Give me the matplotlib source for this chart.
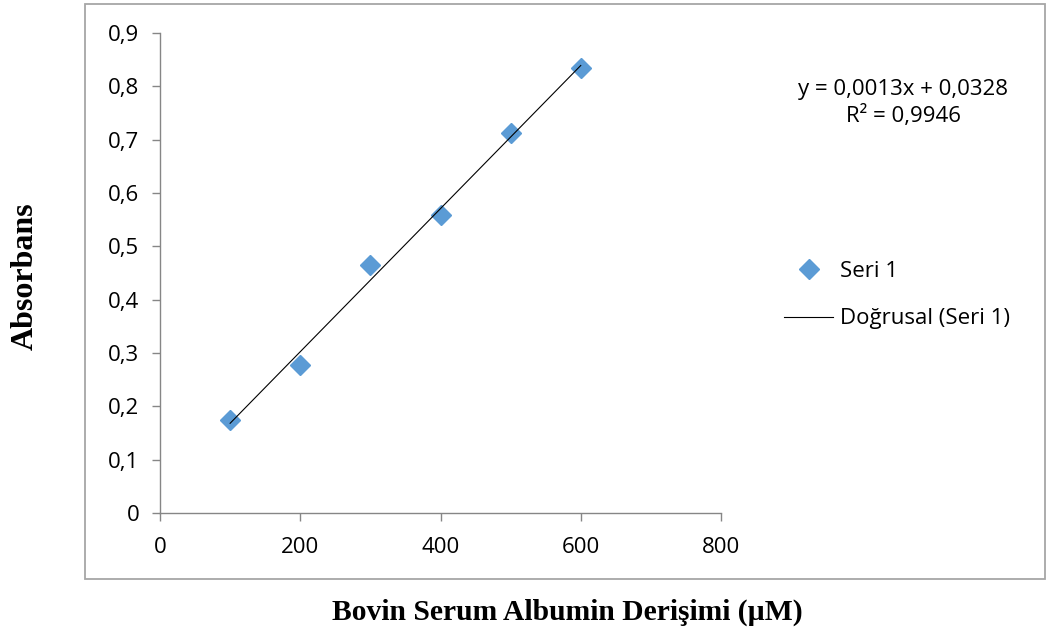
import numpy as np
import matplotlib.pyplot as plt
from matplotlib.patches import Rectangle
from matplotlib.lines import Line2D

# BSA concentration (uM) and measured absorbance
concentration = [100, 200, 300, 400, 500, 600]
absorbance = [0.175, 0.277, 0.465, 0.558, 0.713, 0.834]

x_ticks = [0, 200, 400, 600, 800]
y_ticks = [0, 0.1, 0.2, 0.3, 0.4, 0.5, 0.6, 0.7, 0.8, 0.9]
y_tick_labels = ['0', '0,1', '0,2', '0,3', '0,4', '0,5', '0,6', '0,7', '0,8', '0,9']

equation_text = 'y = 0,0013x + 0,0328\nR² = 0,9946'

W, H = 1047, 637
fig = plt.figure(figsize=(W / 100, H / 100), dpi=100)

axis_gray = '#868686'
tick_font = 'Open Sans'
fs = 16

# outer chart border like Excel's chart area
fig.patches.append(Rectangle((85 / W, 1 - 579 / H), 960 / W, 575 / H,
                             transform=fig.transFigure, fill=False,
                             edgecolor='#a6a6a6', linewidth=1.3))

ax = fig.add_axes([160 / W, 1 - 513 / H, 561 / W, 480 / H])

# linear trendline
slope, intercept = np.polyfit(concentration, absorbance, 1)
xfit = np.array([min(concentration), max(concentration)])
ax.plot(xfit, slope * xfit + intercept, color='black', linewidth=0.8, zorder=3)

ax.plot(concentration, absorbance, linestyle='none', marker='D',
        markersize=10.5, color='#5b9bd5', zorder=2)

ax.set_xlim(0, 800)
ax.set_ylim(0, 0.9)
ax.set_xticks(x_ticks)
ax.set_xticklabels([str(v) for v in x_ticks])
ax.set_yticks(y_ticks)
ax.set_yticklabels(y_tick_labels)

for s in ['top', 'right']:
    ax.spines[s].set_visible(False)
for s in ['left', 'bottom']:
    ax.spines[s].set_color(axis_gray)
    ax.spines[s].set_linewidth(1.0)
ax.tick_params(direction='out', length=6, width=1.0, color=axis_gray,
               labelsize=fs)
ax.tick_params(axis='y', pad=9)
ax.tick_params(axis='x', pad=11)
for lbl in ax.get_xticklabels() + ax.get_yticklabels():
    lbl.set_fontfamily(tick_font)

# axis titles outside the chart box
fig.text(567 / W, 1 - 612 / H, 'Bovin Serum Albumin Derişimi (µM)',
         family='Liberation Serif', weight='bold', fontsize=21.3,
         ha='center', va='center')
fig.text(25 / W, 1 - 276 / H, 'Absorbans', family='Liberation Serif',
         weight='bold', fontsize=23, rotation=90, ha='center', va='center')

# trendline equation
fig.text(903 / W, 1 - 103 / H, equation_text, family=tick_font, fontsize=fs,
         ha='center', va='center', linespacing=1.35)

# legend
handles = [Line2D([], [], linestyle='none', marker='D', markersize=10.5,
                  color='#5b9bd5'),
           Line2D([], [], color='black', linewidth=0.8)]
fig.legend(handles, ['Seri 1', 'Doğrusal (Seri 1)'], loc='center left',
           bbox_to_anchor=(773 / W, 1 - 295 / H), frameon=False,
           prop={'family': tick_font, 'size': fs}, handlelength=2.2,
           handletextpad=0.3, labelspacing=1.2, borderpad=0)

fig.savefig('out.png', dpi=100)
